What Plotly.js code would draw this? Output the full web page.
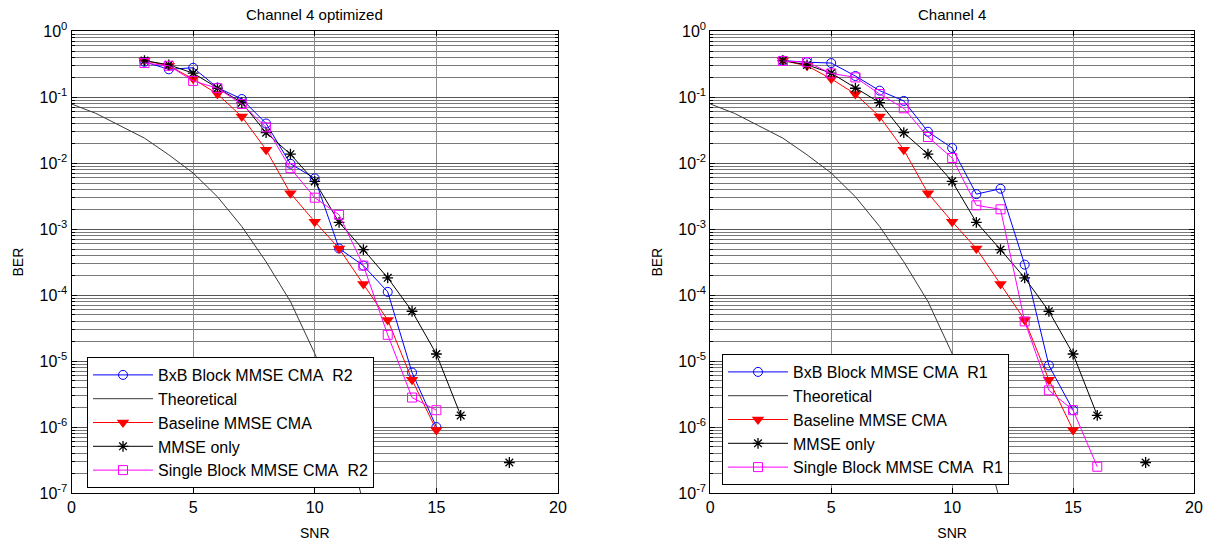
<!DOCTYPE html>
<html>
<head>
<meta charset="utf-8">
<script src="https://cdn.plot.ly/plotly-3.0.1.min.js"></script>
<style>html,body{margin:0;padding:0;background:#fff;}#chart{width:1209px;height:546px;}</style>
</head>
<body>
<div id="chart"></div>
<script>
// ---------- data ----------
const snr = [3, 4, 5, 6, 7, 8, 9, 10, 11, 12, 13, 14, 15];
const snrMmse = [3, 4, 5, 6, 7, 8, 9, 10, 11, 12, 13, 14, 15, 16, 17, 18];
const snrSingleR1 = [3, 4, 5, 6, 7, 8, 9, 10, 11, 12, 13, 14, 15, 16];
const snrTheory = [0, 1, 2, 3, 4, 5, 6, 7, 8, 9, 10, 10.5, 11, 11.5, 12];

const berTheory = [0.079, 0.057, 0.037, 0.024, 0.0134, 0.0071, 0.0031, 0.0011, 3.2e-4, 8e-5, 1.3e-5, 5e-6, 1.5e-6, 3.5e-7, 7e-8];

// left panel (Channel 4 optimized)
const berBxbR2 = [0.345, 0.265, 0.28, 0.14, 0.094, 0.040, 0.0098, 0.0059, 5.1e-4, 2.8e-4, 1.12e-4, 6.7e-6, 1.0e-6];
const berSingleR2 = [0.33, 0.30, 0.177, 0.137, 0.079, 0.035, 0.0084, 0.0030, 0.00165, 2.8e-4, 2.5e-5, 2.8e-6, 1.8e-6];

// common to both panels
const berBaseline = [0.36, 0.30, 0.19, 0.112, 0.051, 0.016, 0.0035, 0.0013, 5.1e-4, 1.47e-4, 4.2e-5, 5.2e-6, 9.0e-7];
const berMmseOnly = [0.36, 0.31, 0.232, 0.137, 0.083, 0.029, 0.0137, 0.0053, 0.00127, 4.9e-4, 1.83e-4, 5.7e-5, 1.28e-5, 1.5e-6, null, 2.9e-7];

// right panel (Channel 4)
const berBxbR1 = [0.36, 0.34, 0.33, 0.21, 0.126, 0.088, 0.030, 0.017, 0.0034, 0.0041, 2.9e-4, 8.6e-6, 1.8e-6];
const berSingleR1 = [0.355, 0.34, 0.23, 0.20, 0.112, 0.068, 0.025, 0.012, 0.0023, 0.0020, 4.0e-5, 3.6e-6, 1.8e-6, 2.5e-7];

const panelTitles = ['Channel 4 optimized', 'Channel 4'];
const namesLeft = ['BxB Block MMSE CMA\u00a0 R2', 'Theoretical', 'Baseline MMSE CMA', 'MMSE only', 'Single Block MMSE CMA\u00a0 R2'];
const namesRight = ['BxB Block MMSE CMA\u00a0 R1', 'Theoretical', 'Baseline MMSE CMA', 'MMSE only', 'Single Block MMSE CMA\u00a0 R1'];

const yTickVals = [1, 1e-1, 1e-2, 1e-3, 1e-4, 1e-5, 1e-6, 1e-7];
const yTickText = ['10<sup>0</sup>', '10<sup>-1</sup>', '10<sup>-2</sup>', '10<sup>-3</sup>', '10<sup>-4</sup>', '10<sup>-5</sup>', '10<sup>-6</sup>', '10<sup>-7</sup>'];
const xTickVals = [0, 5, 10, 15, 20];

// ---------- build ----------
const minorVals = [];
for (let e = -7; e < 0; e++) for (let m = 2; m <= 9; m++) minorVals.push(m * Math.pow(10, e));

function makeTraces(xa, ya, leg, names, bxb, bxbX, single, singleX) {
  const common = {xaxis: xa, yaxis: ya, legend: leg, mode: 'lines+markers'};
  return [
    Object.assign({}, common, {name: names[0], legendgroup: leg + 'a', x: bxbX, y: bxb,
      line: {color: '#0000ff', width: 1}, marker: {symbol: 'circle-open', size: 9, color: '#0000ff', line: {width: 1}}}),
    Object.assign({}, common, {name: names[1], legendgroup: leg + 'b', x: snrTheory, y: berTheory, mode: 'lines',
      line: {color: '#3a3a3a', width: 1}}),
    Object.assign({}, common, {name: names[2], legendgroup: leg + 'c', x: snr, y: berBaseline,
      line: {color: '#ff0000', width: 1}, marker: {symbol: 'triangle-down', size: 11, color: '#ff0000'}}),
    Object.assign({}, common, {name: names[3], legendgroup: leg + 'd', x: snrMmse, y: berMmseOnly, connectgaps: false,
      line: {color: '#000000', width: 1}, marker: {symbol: 'asterisk-open', size: 9, color: '#000000', line: {width: 1.3, color: '#000000'}}}),
    Object.assign({}, common, {name: names[4], legendgroup: leg + 'e', x: singleX, y: single,
      line: {color: '#ff00ff', width: 1}, marker: {symbol: 'square-open', size: 9, color: '#ff00ff', line: {width: 1}}})
  ];
}

const traces = [].concat(
  makeTraces('x', 'y', 'legend', namesLeft, berBxbR2, snr, berSingleR2, snr),
  makeTraces('x2', 'y2', 'legend2', namesRight, berBxbR1, snr, berSingleR1, snrSingleR1)
);

const W = 1209, H = 546;
const font = {family: 'Liberation Sans, Arial, sans-serif', color: '#000'};

function xAxis(domain, anchor) {
  return {
    domain: domain, anchor: anchor, range: [0, 20], tickmode: 'array', tickvals: xTickVals,
    showline: true, linecolor: '#000', linewidth: 1, mirror: 'ticks', ticks: 'inside', ticklen: 5, tickcolor: '#000',
    showgrid: true, gridcolor: '#8c8c8c', gridwidth: 1, zeroline: false,
    tickfont: Object.assign({size: 16}, font),
    title: {text: 'SNR', font: Object.assign({size: 14}, font), standoff: 12},
    automargin: false, fixedrange: true
  };
}
function yAxis(domain, anchor) {
  return {
    domain: domain, anchor: anchor, type: 'log', range: [-7, 0], tickmode: 'array', tickvals: yTickVals, ticktext: yTickText,
    showline: true, linecolor: '#000', linewidth: 1, mirror: 'ticks', ticks: 'inside', ticklen: 5, tickcolor: '#000',
    showgrid: true, gridcolor: '#555555', gridwidth: 1, zeroline: false,
    minor: {tickmode: 'array', tickvals: minorVals, showgrid: true, gridcolor: '#787878', gridwidth: 1, ticks: 'inside', ticklen: 3, tickcolor: '#000'},
    tickfont: Object.assign({size: 16}, font),
    title: {text: 'BER', font: Object.assign({size: 14}, font), standoff: 12},
    automargin: false, fixedrange: true
  };
}

const yDom = [1 - 493 / H, 1 - 31.3 / H];
const legendStyle = {
  bgcolor: '#ffffff', bordercolor: '#000', borderwidth: 1,
  font: Object.assign({size: 16}, font), xanchor: 'left', yanchor: 'bottom',
  tracegroupgap: 7, itemwidth: 60, traceorder: 'normal'
};

const layout = {
  width: W, height: H,
  margin: {l: 0, r: 0, t: 0, b: 0},
  paper_bgcolor: '#fff', plot_bgcolor: '#fff',
  font: font,
  showlegend: true,
  xaxis: xAxis([71.5 / W, 558 / W], 'y'),
  yaxis: yAxis(yDom, 'x'),
  xaxis2: xAxis([710.3 / W, 1194 / W], 'y2'),
  yaxis2: yAxis(yDom, 'x2'),
  legend: Object.assign({}, legendStyle, {x: 87 / W, y: 1 - 488 / H}),
  legend2: Object.assign({}, legendStyle, {x: 722 / W, y: 1 - 485 / H}),
  annotations: [
    {text: panelTitles[0], xref: 'paper', yref: 'paper', x: (71.5 + 558) / 2 / W, y: 1 - 14 / H, xanchor: 'center', yanchor: 'middle', showarrow: false, font: Object.assign({size: 15}, font)},
    {text: panelTitles[1], xref: 'paper', yref: 'paper', x: (710.3 + 1194) / 2 / W, y: 1 - 14 / H, xanchor: 'center', yanchor: 'middle', showarrow: false, font: Object.assign({size: 15}, font)}
  ]
};

Plotly.newPlot('chart', traces, layout, {displayModeBar: false, staticPlot: true});
</script>
</body>
</html>
